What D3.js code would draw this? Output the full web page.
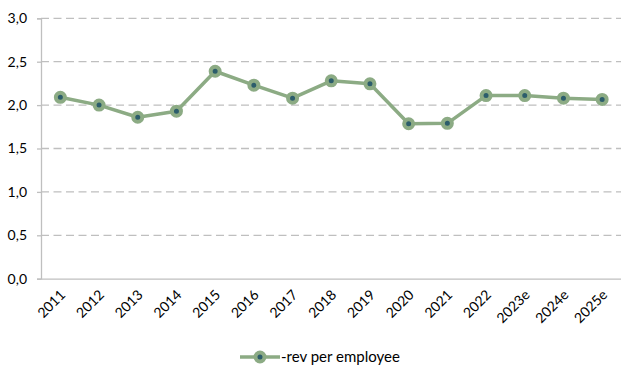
<!DOCTYPE html>
<html><head><meta charset="utf-8">
<script src="https://cdn.jsdelivr.net/npm/d3@7"></script>
<style>body{margin:0;background:#fff}svg{display:block;font-family:Lato,"Open Sans",sans-serif}</style>
</head><body>
<script>
const categories = ["2011","2012","2013","2014","2015","2016","2017","2018","2019","2020","2021","2022","2023e","2024e","2025e"];
const revPerEmployee = [2.09,2.00,1.86,1.93,2.39,2.23,2.08,2.28,2.245,1.785,1.79,2.11,2.11,2.08,2.065];
const yTicks = [0,0.5,1.0,1.5,2.0,2.5,3.0];
const seriesName = "-rev per employee";

const W=621,H=367;
const m={left:41,right:0,top:18.3,bottom:88.3};
const svg=d3.select("body").append("svg").attr("width",W).attr("height",H);
const x=d3.scaleBand().domain(categories).range([m.left,621.5]);
const y=d3.scaleLinear().domain([0,3]).range([H-m.bottom,m.top]);
const fmt=d=>d.toFixed(1).replace(".",",");
const lineCol="#8cab84", dotCol="#2c5d6b";

// gridlines
svg.append("g").selectAll("line").data(yTicks.filter(d=>d>0)).join("line")
  .attr("x1",m.left).attr("x2",621.5).attr("y1",d=>y(d)).attr("y2",d=>y(d))
  .attr("stroke","#bfbfbf").attr("stroke-width",1.3).attr("stroke-dasharray","8,4.5");

// y axis
const ya=svg.append("g").attr("transform",`translate(${m.left},0)`)
  .call(d3.axisLeft(y).tickValues(yTicks).tickFormat(fmt).tickSize(4).tickPadding(10));
ya.select(".domain").attr("stroke","#bfbfbf").attr("stroke-width",1.3);
ya.selectAll(".tick line").attr("stroke","#bfbfbf").attr("stroke-width",1.3);
ya.selectAll("text").attr("font-size",14).attr("fill","#000").attr("font-family","Lato,sans-serif");

// x axis
const xa=svg.append("g").attr("transform",`translate(0,${y(0)})`)
  .call(d3.axisBottom(x).tickSize(0).tickPadding(0));
xa.select(".domain").attr("stroke","#bfbfbf").attr("stroke-width",1.3);
xa.selectAll("text").attr("font-size",14).attr("fill","#000").attr("font-family","Lato,sans-serif")
  .attr("text-anchor","end").attr("dy",0).attr("y",0)
  .attr("transform","translate(6,17) rotate(-45)");

// line
const cx=d=>x(d)+x.bandwidth()/2;
svg.append("path").datum(categories.map((c,i)=>[cx(c),y(revPerEmployee[i])]))
  .attr("d",d3.line()).attr("fill","none").attr("stroke",lineCol).attr("stroke-width",3.5)
  .attr("stroke-linejoin","round");
svg.append("g").selectAll("circle").data(categories).join("circle")
  .attr("cx",cx).attr("cy",(c,i)=>y(revPerEmployee[i])).attr("r",4.5)
  .attr("fill",dotCol).attr("stroke",lineCol).attr("stroke-width",4);

// legend
const lg=svg.append("g").attr("transform","translate(240,357)");
lg.append("line").attr("x1",0).attr("x2",40).attr("stroke",lineCol).attr("stroke-width",3.5);
lg.append("circle").attr("cx",20).attr("r",4.5).attr("fill",dotCol).attr("stroke",lineCol).attr("stroke-width",4);
lg.append("text").attr("x",41).attr("y",5).attr("font-size",15).attr("font-family","Lato,sans-serif").text(seriesName);
</script>
</body></html>
